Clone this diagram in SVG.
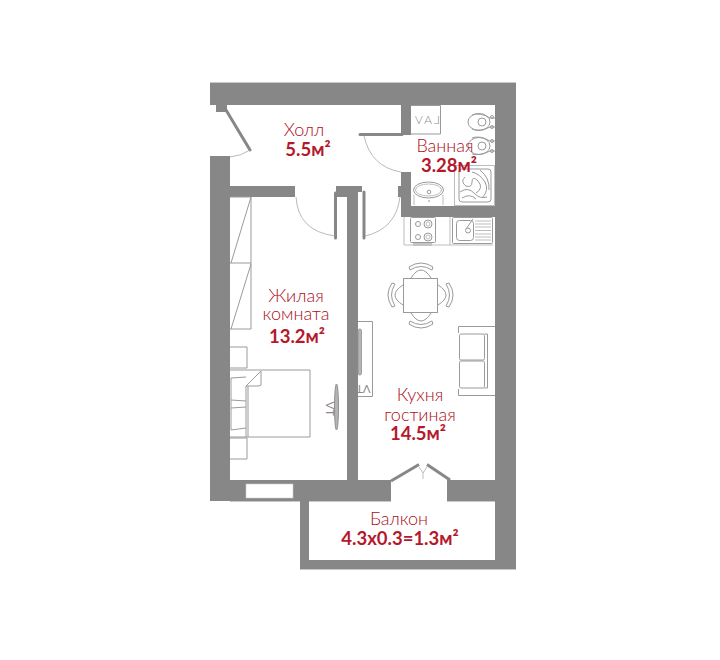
<svg xmlns="http://www.w3.org/2000/svg" width="720" height="660" viewBox="0 0 720 660">
<style>
.w{fill:#878787;stroke:none}
.f{fill:none;stroke:#9a9a9a;stroke-width:1}
.l{fill:none;stroke:#bdbdbd;stroke-width:1}
.d{fill:none;stroke:#878787;stroke-width:3;stroke-linecap:round}
.a{fill:none;stroke:#a8a8a8;stroke-width:.8}
.t{font-family:Lato,"Noto Sans",sans-serif;font-size:18px;font-weight:300;fill:#ab0f22;text-anchor:middle}
.b{font-family:Lato,"Noto Sans",sans-serif;font-size:18.500px;font-weight:700;fill:#b5182c;text-anchor:middle}
.g{font-family:Lato,"Noto Sans",sans-serif;font-size:11.500px;font-weight:400;fill:#8a8a8a}
</style>
<rect width="720" height="660" fill="#fff"/>
<g id="walls">
<rect class="w" x="210" y="83" width="306" height="22"/>
<rect class="w" x="216" y="105" width="11" height="7"/>
<rect class="w" x="210" y="156" width="20" height="345"/>
<rect class="w" x="230" y="186" width="65" height="11"/>
<rect class="w" x="336" y="186" width="11" height="11"/>
<rect class="w" x="336" y="186" width="26" height="6"/>
<rect class="w" x="347" y="186" width="11" height="294"/>
<rect class="w" x="401" y="105" width="10" height="30"/>
<rect class="w" x="401" y="172" width="10" height="45"/>
<rect class="w" x="398" y="186" width="3" height="11"/>
<rect class="w" x="401" y="206" width="94" height="11"/>
<rect class="w" x="495" y="83" width="21" height="486"/>
<rect class="w" x="210" y="480" width="181" height="21"/>
<rect class="w" x="447" y="480" width="48" height="21"/>
<rect class="w" x="300" y="501" width="9" height="68"/>
<rect class="w" x="300" y="560" width="216" height="9"/>
<rect x="246" y="484" width="47" height="14" fill="#fff" stroke="#ccc" stroke-width=".6"/>
<path d="M210 82.500H516M230 501.500H300M309 501.500H391M447 501.500H495M516 569.500H300" fill="none" stroke="#c8c8c8" stroke-width="1"/>
</g>
<g id="connectors">
<path class="d" d="M226 110L250 150"/>
<path class="a" d="M250 150Q241 156 230 157"/>
<path class="d" d="M335.500 193V238"/>
<path class="a" d="M296 197Q298 231 335 236"/>
<path class="d" d="M360 134.500H402"/>
<path class="a" d="M364 136Q371 167 401 172"/>
<path class="d" d="M364 192V238"/>
<path class="a" d="M365 236Q396 229 400 197"/>
<path d="M391 481L419 464.500M450 480L427 464.500" fill="none" stroke="#878787" stroke-width="3"/>
<path class="l" d="M419 467L423 473L427 467M423 473V479"/>
</g>
<g id="wardrobe">
<path class="f" d="M230 197H251V329H230M230 263H251M251 197L231 263M251 264L231 329"/>
</g>
<g id="bed">
<path class="f" d="M230 347H247V368H230M230 438H247V459H230M230 370H310V437H230M246 386V437M248 386V437M246 386L261 371V385L259 386ZM231 378L246 377M231 400L246 401M231 408L246 407M231 430L246 428M231 378V430"/>
</g>
<g id="tv-bedroom">
<ellipse cx="336.500" cy="407" rx="2" ry="23" fill="#b5b5b5" stroke="#8f8f8f"/>
<text class="g" transform="translate(326,416) rotate(-90) scale(1,-1)">TV</text>
</g>
<g id="tv-living">
<path class="f" d="M358 321.500H372.500V396.500H358"/>
<rect x="358" y="329" width="3.500" height="46" rx="1.700" fill="#b5b5b5" stroke="#8f8f8f" stroke-width=".8"/>
<text class="g" transform="translate(356,385) scale(1,-1)">TV</text>
</g>
<g id="table">
<rect class="f" x="403.500" y="278.500" width="34" height="34" stroke-width="1.200"/>
<path class="f" d="M411 278Q421 262 431 278M410 270Q421 263 432 270M409 267Q421 259 433 267M409 267L410 270M433 267L432 270"/>
<path class="f" d="M411 313Q421 329 431 313M410 321Q421 328 432 321M409 324Q421 332 433 324M409 324L410 321M433 324L432 321"/>
<path class="f" d="M403 285Q387 295 403 305M395 284Q388 295 395 306M392 283Q384 295 392 307M392 283L395 284M392 307L395 306"/>
<path class="f" d="M438 285Q454 295 438 305M446 284Q453 295 446 306M449 283Q457 295 449 307M449 283L446 284M449 307L446 306"/>
</g>
<g id="sofa">
<path class="f" d="M495 326.500H458.500V333M495 395.500H458.500V389"/>
<rect class="f" x="459.500" y="334" width="25" height="26" rx="1.500"/>
<rect class="f" x="459.500" y="361" width="25" height="27" rx="1.500"/>
<path class="f" d="M484.500 334H487.500V388H484.500"/>
</g>
<g id="lav">
<path class="f" d="M411 105.500H440.500V134H411"/>
<text class="g" transform="translate(440,124) scale(-1,1)" style="font-size:12px;font-weight:300;letter-spacing:2px">LAV</text>
</g>
<g id="toilets">
<ellipse class="f" cx="479" cy="122" rx="11" ry="8.500"/>
<circle class="f" cx="482" cy="122" r="4"/>
<path class="f" d="M472 115Q480 112 490 118H495M472 129Q480 132 490 127H495"/>
<circle class="f" cx="492" cy="117" r="1.500"/><circle class="f" cx="492" cy="127" r="1.500"/>
<ellipse class="f" cx="479" cy="146" rx="11" ry="8.500"/>
<circle class="f" cx="482" cy="146" r="4"/>
<path class="f" d="M472 138Q480 135 490 141H495M472 154Q480 156 490 151H495"/>
<circle class="f" cx="492" cy="141" r="1.500"/><circle class="f" cx="492" cy="151" r="1.500"/>
</g>
<g id="shower">
<rect class="l" x="454.500" y="165.500" width="40" height="40"/>
<rect class="f" x="459" y="169" width="32" height="33" rx="3"/>
<path class="f" d="M460 192Q468 186 475 194Q480 199 487 197M465 177Q460 182 466 186Q472 188 472 182Q472 175 478 181Q484 188 476 193M472 172Q480 174 485 182Q489 190 483 197M480 170Q490 178 489 190M462 198Q470 193 476 199"/>
</g>
<g id="basin">
<ellipse class="f" cx="428.500" cy="190" rx="15" ry="8"/>
<ellipse class="l" cx="428.500" cy="190" rx="13" ry="6"/>
<circle class="f" cx="429" cy="192" r="1.800"/>
<path class="l" d="M414 195V205M443 195V205"/>
<circle cx="429" cy="201" r=".8" fill="#888"/>
</g>
<g id="kitchen">
<path class="l" d="M404 217V245H493M450 217V245"/>
<rect class="f" x="410.500" y="217.500" width="25" height="25" rx="1"/>
<circle class="f" cx="418" cy="224" r="2.500"/><circle class="f" cx="428" cy="224" r="4"/>
<circle class="f" cx="418" cy="237" r="2.500"/><circle class="f" cx="428" cy="237" r="4"/>
<circle class="l" cx="428" cy="224" r="2"/><circle class="l" cx="428" cy="237" r="2"/>
<rect x="413" y="243" width="19" height="3" fill="#c4c4c4"/>
<rect class="f" x="452.500" y="217.500" width="40" height="26" rx="1"/>
<rect class="f" x="456.500" y="220.500" width="17" height="20" rx="3"/>
<circle class="f" cx="468" cy="230.500" r="2.500"/>
<path class="f" d="M466 229L473 219" stroke-width="1.500"/>
<path class="l" d="M475 221H491M475 224H491M475 227H491M475 230.500H491M475 234H491M475 237H491M475 240H491"/>
</g>
<g id="labels">
<text class="t" x="304" y="136">Холл</text>
<text class="b" x="308" y="156">5.5м²</text>
<text class="t" x="445" y="152">Ванная</text>
<text class="b" x="449" y="172">3.28м²</text>
<text class="t"><tspan x="296" y="302">Жилая</tspan><tspan x="296" y="320">комната</tspan></text>
<text class="b" x="297" y="343">13.2м²</text>
<text class="t"><tspan x="420" y="401">Кухня</tspan><tspan x="420" y="421">гостиная</tspan></text>
<text class="b" x="418" y="440">14.5м²</text>
<text class="t" x="399" y="525">Балкон</text>
<text class="b" x="400" y="545">4.3х0.3=1.3м²</text>
</g>
</svg>
